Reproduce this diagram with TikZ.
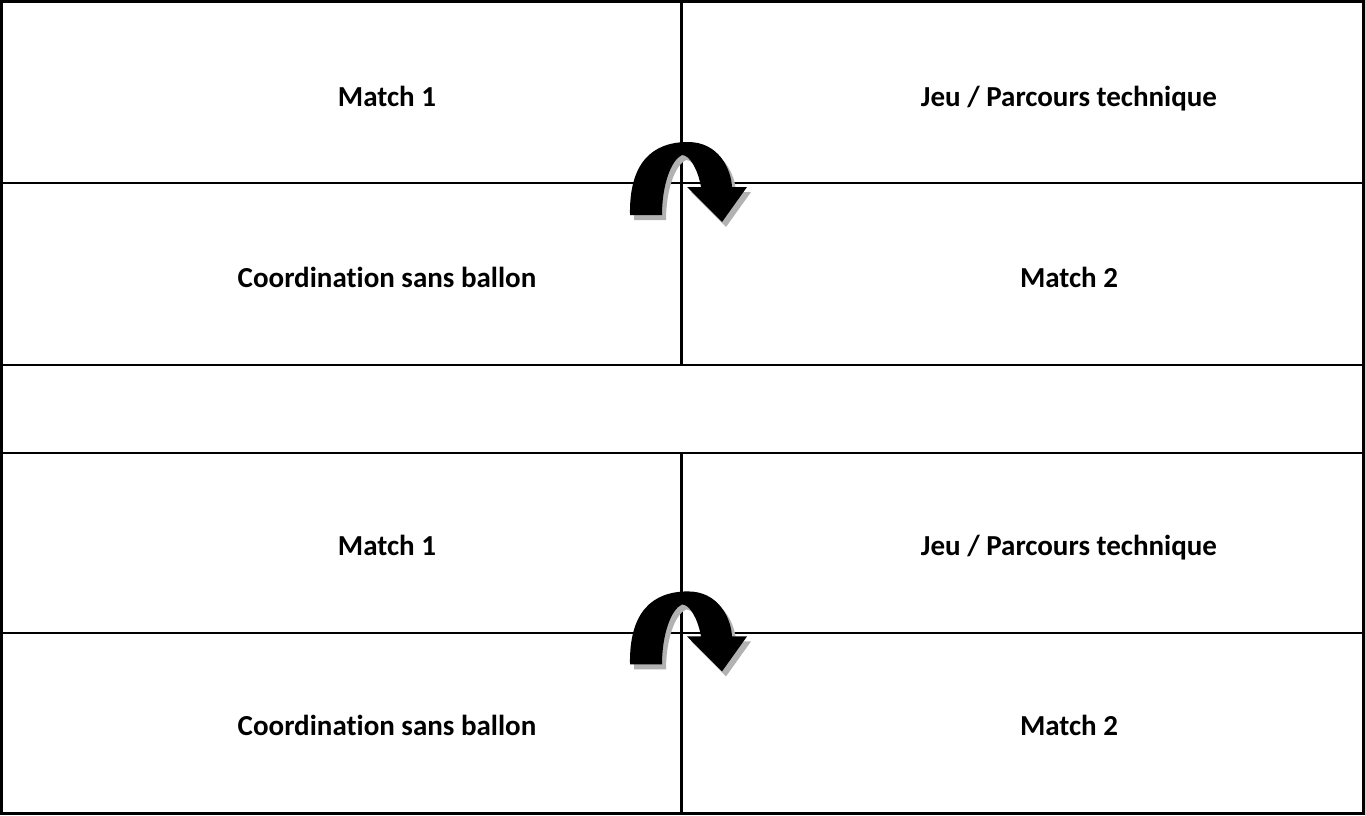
\documentclass[tikz,border=0pt]{standalone}
\usepackage{fontspec}
\setmainfont[Ligatures=NoCommon]{Carlito}
\begin{document}
\begin{tikzpicture}[x=1pt,y=-1pt,
  lbl/.style={font=\bfseries\fontsize{29}{34}\selectfont, inner sep=0pt, anchor=base},
  gridline/.style={line width=2.2pt, black},
  frame/.style={line width=3pt, black},
  uarrow/.style={fill=black},
  ushadow/.style={fill=black!30}]
\useasboundingbox (0,0) rectangle (1365,815);
\fill[white] (0,0) rectangle (1365,815);
% grid
\coordinate (vt) at (681.5,0);
\coordinate (vm1) at (681.5,365);
\coordinate (vm2) at (681.5,453);
\coordinate (vb) at (681.5,815);
\draw[gridline] (0,183.3) -- (1365,183.3);
\draw[gridline] (0,365) -- (1365,365);
\draw[gridline] (0,453) -- (1365,453);
\draw[gridline] (0,632.7) -- (1365,632.7);
\draw[gridline] (vt) -- (vm1);
\draw[gridline] (vm2) -- (vb);
\draw[frame] (1.2,1.8) rectangle (1363.5,813.8);
% texts
\node[lbl] (m1a) at (387,106) {Match 1};
\node[lbl] (jpa) at (1069,106) {Jeu / Parcours technique};
\node[lbl] (csa) at (387,287) {Coordination sans ballon};
\node[lbl] (m2a) at (1069,287) {Match 2};
\node[lbl] (m1b) at (387,555) {Match 1};
\node[lbl] (jpb) at (1069,555) {Jeu / Parcours technique};
\node[lbl] (csb) at (387,735) {Coordination sans ballon};
\node[lbl] (m2b) at (1069,735) {Match 2};
% u-turn arrows
\def\uturnpath{(630,215) .. controls (629,163) and (652,142) .. (688,142)
  .. controls (718,142) and (731,168) .. (732,187)
  -- (747,187) -- (722,222) -- (687,187) -- (701,187)
  .. controls (698,170) and (690,155) .. (682,155)
  .. controls (671,160) and (662,185) .. (662,215) -- cycle}
\foreach \dy in {0,449.4}{
  \begin{scope}[yshift=-\dy pt]
    \fill[ushadow, shift={(4,5)}] \uturnpath;
    \fill[uarrow] \uturnpath;
  \end{scope}
}
\end{tikzpicture}
\end{document}
